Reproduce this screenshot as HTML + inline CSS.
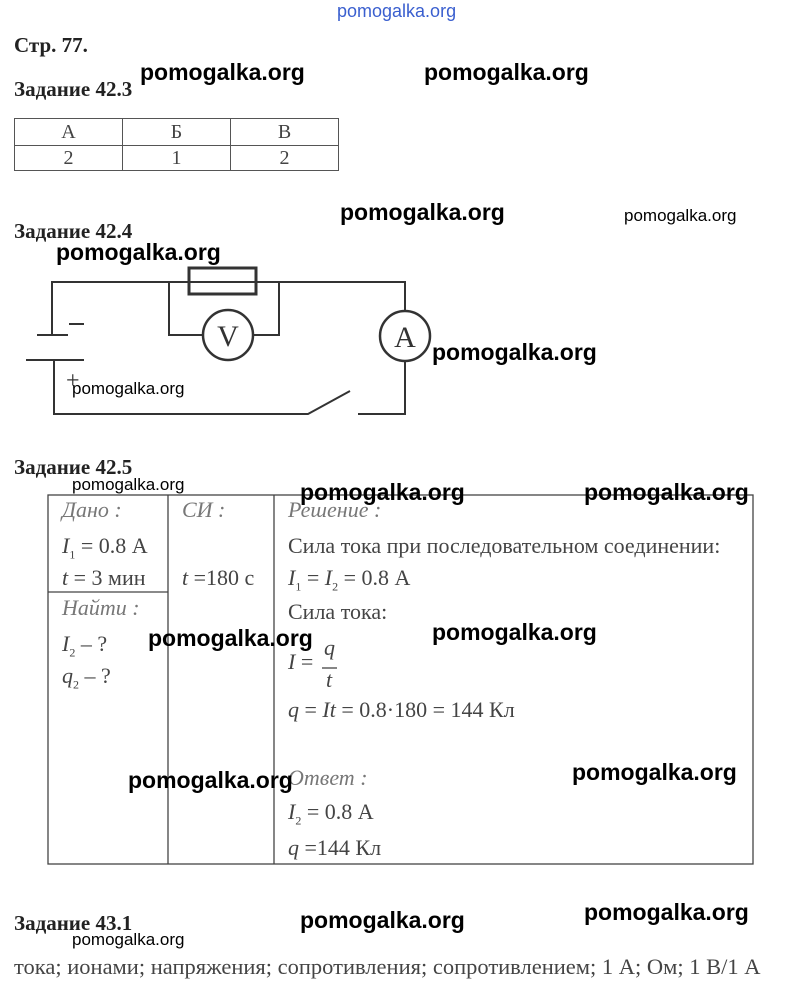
<!DOCTYPE html>
<html><head><meta charset="utf-8"><style>
body{margin:0;width:789px;height:994px;background:#fff;position:relative;overflow:hidden;font-family:"Liberation Serif",serif;color:#333}
.a{position:absolute;white-space:nowrap}
.b{font-weight:bold;font-size:21px;color:#222}
.w{font-family:"Liberation Sans",sans-serif;font-weight:bold;color:#000;font-size:23px}
.ws{font-family:"Liberation Sans",sans-serif;color:#000;font-size:17px}
.t{font-size:22px;color:#444}
.i{font-style:italic;color:#777}
</style></head><body>
<div class="a ws" style="left:337px;top:1px;color:#3a5fcf;font-size:18px">pomogalka.org</div>
<div class="a b" style="left:14px;top:33px">Стр. 77.</div>
<div class="a b" style="left:14px;top:77px">Задание 42.3</div>
<div class="a w" style="left:140px;top:59px">pomogalka.org</div>
<div class="a w" style="left:424px;top:59px">pomogalka.org</div>
<table style="position:absolute;left:14px;top:118px;border-collapse:collapse;font-size:20px;color:#444">
<tr><td style="border:1px solid #555;width:107px;height:26px;text-align:center;padding:0">А</td><td style="border:1px solid #555;width:107px;text-align:center;padding:0">Б</td><td style="border:1px solid #555;width:107px;text-align:center;padding:0">В</td></tr>
<tr><td style="border:1px solid #555;height:24px;text-align:center;padding:0">2</td><td style="border:1px solid #555;text-align:center;padding:0">1</td><td style="border:1px solid #555;text-align:center;padding:0">2</td></tr></table>
<div class="a b" style="left:14px;top:219px">Задание 42.4</div>
<div class="a w" style="left:340px;top:199px">pomogalka.org</div>
<div class="a ws" style="left:624px;top:206px">pomogalka.org</div>
<div class="a w" style="left:56px;top:239px">pomogalka.org</div>
<svg class="a" style="left:0;top:0" width="789" height="994">
<g stroke="#333" stroke-width="2" fill="none">
<polyline points="52,335 52,282 405,282 405,312"/>
<rect x="189" y="268" width="67" height="26" stroke-width="3"/>
<polyline points="169,282 169,335 204,335"/>
<polyline points="279,282 279,335 252,335"/>
<circle cx="228" cy="335" r="25" stroke-width="2.5"/>
<circle cx="405" cy="336" r="25" stroke-width="2.5"/>
<line x1="37" y1="335" x2="68" y2="335"/>
<line x1="26" y1="360" x2="84" y2="360"/>
<line x1="69" y1="324" x2="84" y2="324"/>
<polyline points="54,360 54,414 308,414 350,391"/>
<polyline points="405,361 405,414 358,414"/>
</g>
<text x="228" y="346" font-family="Liberation Serif" font-size="30" text-anchor="middle" fill="#333">V</text>
<text x="405" y="347" font-family="Liberation Serif" font-size="30" text-anchor="middle" fill="#333">A</text>
<text x="66" y="388" font-family="Liberation Serif" font-size="24" fill="#333">+</text>
</svg>
<div class="a w" style="left:432px;top:339px">pomogalka.org</div>
<div class="a ws" style="left:72px;top:379px">pomogalka.org</div>
<div class="a b" style="left:14px;top:455px">Задание 42.5</div>
<div class="a ws" style="left:72px;top:475px">pomogalka.org</div>
<svg class="a" style="left:0;top:0" width="789" height="994">
<g stroke="#444" stroke-width="1.3" fill="none">
<rect x="48" y="495" width="705" height="369"/>
<line x1="168" y1="495" x2="168" y2="864"/>
<line x1="274" y1="495" x2="274" y2="864"/>
<line x1="48" y1="592" x2="168" y2="592"/>
<line x1="322" y1="668" x2="337" y2="668"/>
</g></svg>
<div class="a t i" style="left:62px;top:497px">Дано :</div>
<div class="a t" style="left:62px;top:533px"><i>I</i><sub style="font-size:12px">1</sub> = 0.8 А</div>
<div class="a t" style="left:62px;top:565px"><i>t</i> = 3 мин</div>
<div class="a t i" style="left:62px;top:595px">Найти :</div>
<div class="a t" style="left:62px;top:631px"><i>I</i><sub style="font-size:12px">2</sub> – ?</div>
<div class="a t" style="left:62px;top:663px"><i>q</i><sub style="font-size:12px">2</sub> – ?</div>
<div class="a t i" style="left:182px;top:497px">СИ :</div>
<div class="a t" style="left:182px;top:565px"><i>t</i> =180 с</div>
<div class="a t i" style="left:288px;top:497px">Решение :</div>
<div class="a t" style="left:288px;top:533px">Сила тока при последовательном соединении:</div>
<div class="a t" style="left:288px;top:565px"><i>I</i><sub style="font-size:12px">1</sub> = <i>I</i><sub style="font-size:12px">2</sub> = 0.8 А</div>
<div class="a t" style="left:288px;top:599px">Сила тока:</div>
<div class="a t" style="left:288px;top:649px"><i>I</i> =</div>
<div class="a t i" style="left:324px;top:635px;color:#444">q</div>
<div class="a t i" style="left:326px;top:667px;color:#444">t</div>
<div class="a t" style="left:288px;top:697px"><i>q</i> = <i>It</i> = 0.8·180 = 144 Кл</div>
<div class="a t i" style="left:288px;top:765px">Ответ :</div>
<div class="a t" style="left:288px;top:799px"><i>I</i><sub style="font-size:12px">2</sub> = 0.8 А</div>
<div class="a t" style="left:288px;top:835px"><i>q</i> =144 Кл</div>
<div class="a w" style="left:300px;top:479px">pomogalka.org</div>
<div class="a w" style="left:584px;top:479px">pomogalka.org</div>
<div class="a w" style="left:148px;top:625px">pomogalka.org</div>
<div class="a w" style="left:432px;top:619px">pomogalka.org</div>
<div class="a w" style="left:128px;top:767px">pomogalka.org</div>
<div class="a w" style="left:572px;top:759px">pomogalka.org</div>
<div class="a b" style="left:14px;top:911px">Задание 43.1</div>
<div class="a w" style="left:300px;top:907px">pomogalka.org</div>
<div class="a w" style="left:584px;top:899px">pomogalka.org</div>
<div class="a ws" style="left:72px;top:930px">pomogalka.org</div>
<div class="a t" style="left:14px;top:954px;font-size:22.5px">тока; ионами; напряжения; сопротивления; сопротивлением; 1 А; Ом; 1 В/1 А</div>
</body></html>
